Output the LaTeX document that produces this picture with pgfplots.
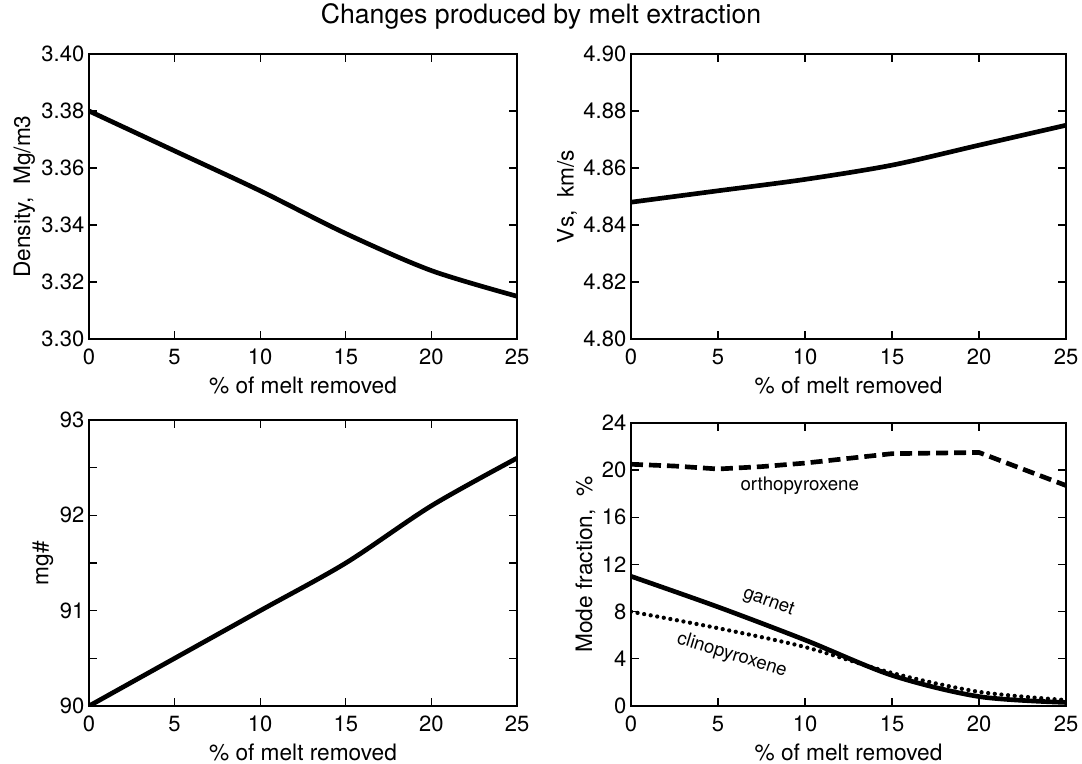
\documentclass[border=0pt]{standalone}
\usepackage{fontspec}
\setmainfont{TeX Gyre Heros}
\usepackage{pgfplots}
\pgfplotsset{compat=1.18}
\pgfplotsset{
  myax/.style={
    scale only axis,
    anchor=south west,
    xmin=0, xmax=25,
    xtick={0,5,...,25},
    tick align=inside,
    major tick length=6pt,
    minor tick length=6pt,
    axis line style={line width=1.5pt},
    every tick/.style={line width=1pt, black},
    tick label style={font=\fontsize{16.5}{18}\selectfont},
    label style={font=\fontsize{17}{19}\selectfont},
    xlabel={\% of melt removed},
    xlabel style={yshift=-2pt},
    /pgf/number format/assume math mode=true,
    xticklabel style={yshift=-4pt},
    yticklabel style={xshift=0pt},
  },
  curve/.style={black, line width=3.5pt, line join=round},
}
\begin{document}
\begin{tikzpicture}
\path[use as bounding box] (0,0) rectangle (811.5pt,573pt);
\node[font=\fontsize{20}{24}\selectfont] at (405.75pt,561pt) {Changes produced by melt extraction};

\begin{axis}[myax, at={(66.75pt,318.75pt)}, width=321pt, height=213.75pt,
  ymin=3.30, ymax=3.40, ytick={3.30,3.32,...,3.401},
  yticklabel style={/pgf/number format/.cd, fixed, fixed zerofill, precision=2},
  ylabel={Density,\ \ Mg/m3}, ylabel style={yshift=-2pt}]
\addplot[curve, smooth] coordinates {(0,3.380) (5,3.366) (10,3.352) (15,3.337) (20,3.324) (25,3.315)};
\end{axis}

\begin{axis}[myax, at={(473.25pt,318.75pt)}, width=326.25pt, height=213.75pt,
  ymin=4.80, ymax=4.90, ytick={4.80,4.82,...,4.901},
  yticklabel style={/pgf/number format/.cd, fixed, fixed zerofill, precision=2},
  ylabel={Vs,\ \ km/s}, ylabel style={yshift=-2pt}]
\addplot[curve, smooth] coordinates {(0,4.848) (5,4.852) (10,4.856) (15,4.861) (20,4.868) (25,4.875)};
\end{axis}

\begin{axis}[myax, at={(66.75pt,43.5pt)}, width=321pt, height=214.5pt,
  ymin=90, ymax=93, ytick={90,91,92,93}, minor ytick={90.5,91.5,92.5},
  ylabel={mg\#}, ylabel style={yshift=-2pt}]
\addplot[curve, smooth] coordinates {(0,90) (5,90.5) (10,91.0) (15,91.5) (20,92.1) (25,92.6)};
\end{axis}

\begin{axis}[myax, at={(473.25pt,43.5pt)}, width=326.25pt, height=212.25pt,
  ymin=0, ymax=24, ytick={0,4,...,24},
  ylabel={Mode fraction,\ \ \%}, ylabel style={yshift=-2pt}]
\addplot[curve, dash pattern=on 9pt off 4.5pt] coordinates {(0,20.5) (2.5,20.35) (5,20.1) (7.5,20.3) (10,20.6) (12.5,21.0) (15,21.4) (20,21.5) (25,18.7)};
\addplot[curve, smooth] coordinates {(0,11.0) (5,8.4) (10,5.6) (15,2.6) (20,0.8) (25,0.3)};
\addplot[black, line width=3.2pt, line cap=round, dash pattern=on 0pt off 5pt, smooth] coordinates {(0,8.0) (5,6.6) (10,5.0) (15,2.8) (20,1.2) (25,0.5)};
\node[font=\fontsize{14}{16}\selectfont] at (axis cs:9.7,18.7) {orthopyroxene};
\node[font=\fontsize{14}{16}\selectfont, rotate=-20] at (axis cs:7.9,8.8) {garnet};
\node[font=\fontsize{14}{16}\selectfont, rotate=-17] at (axis cs:5.8,4.3) {clinopyroxene};
\end{axis}
\end{tikzpicture}
\end{document}
